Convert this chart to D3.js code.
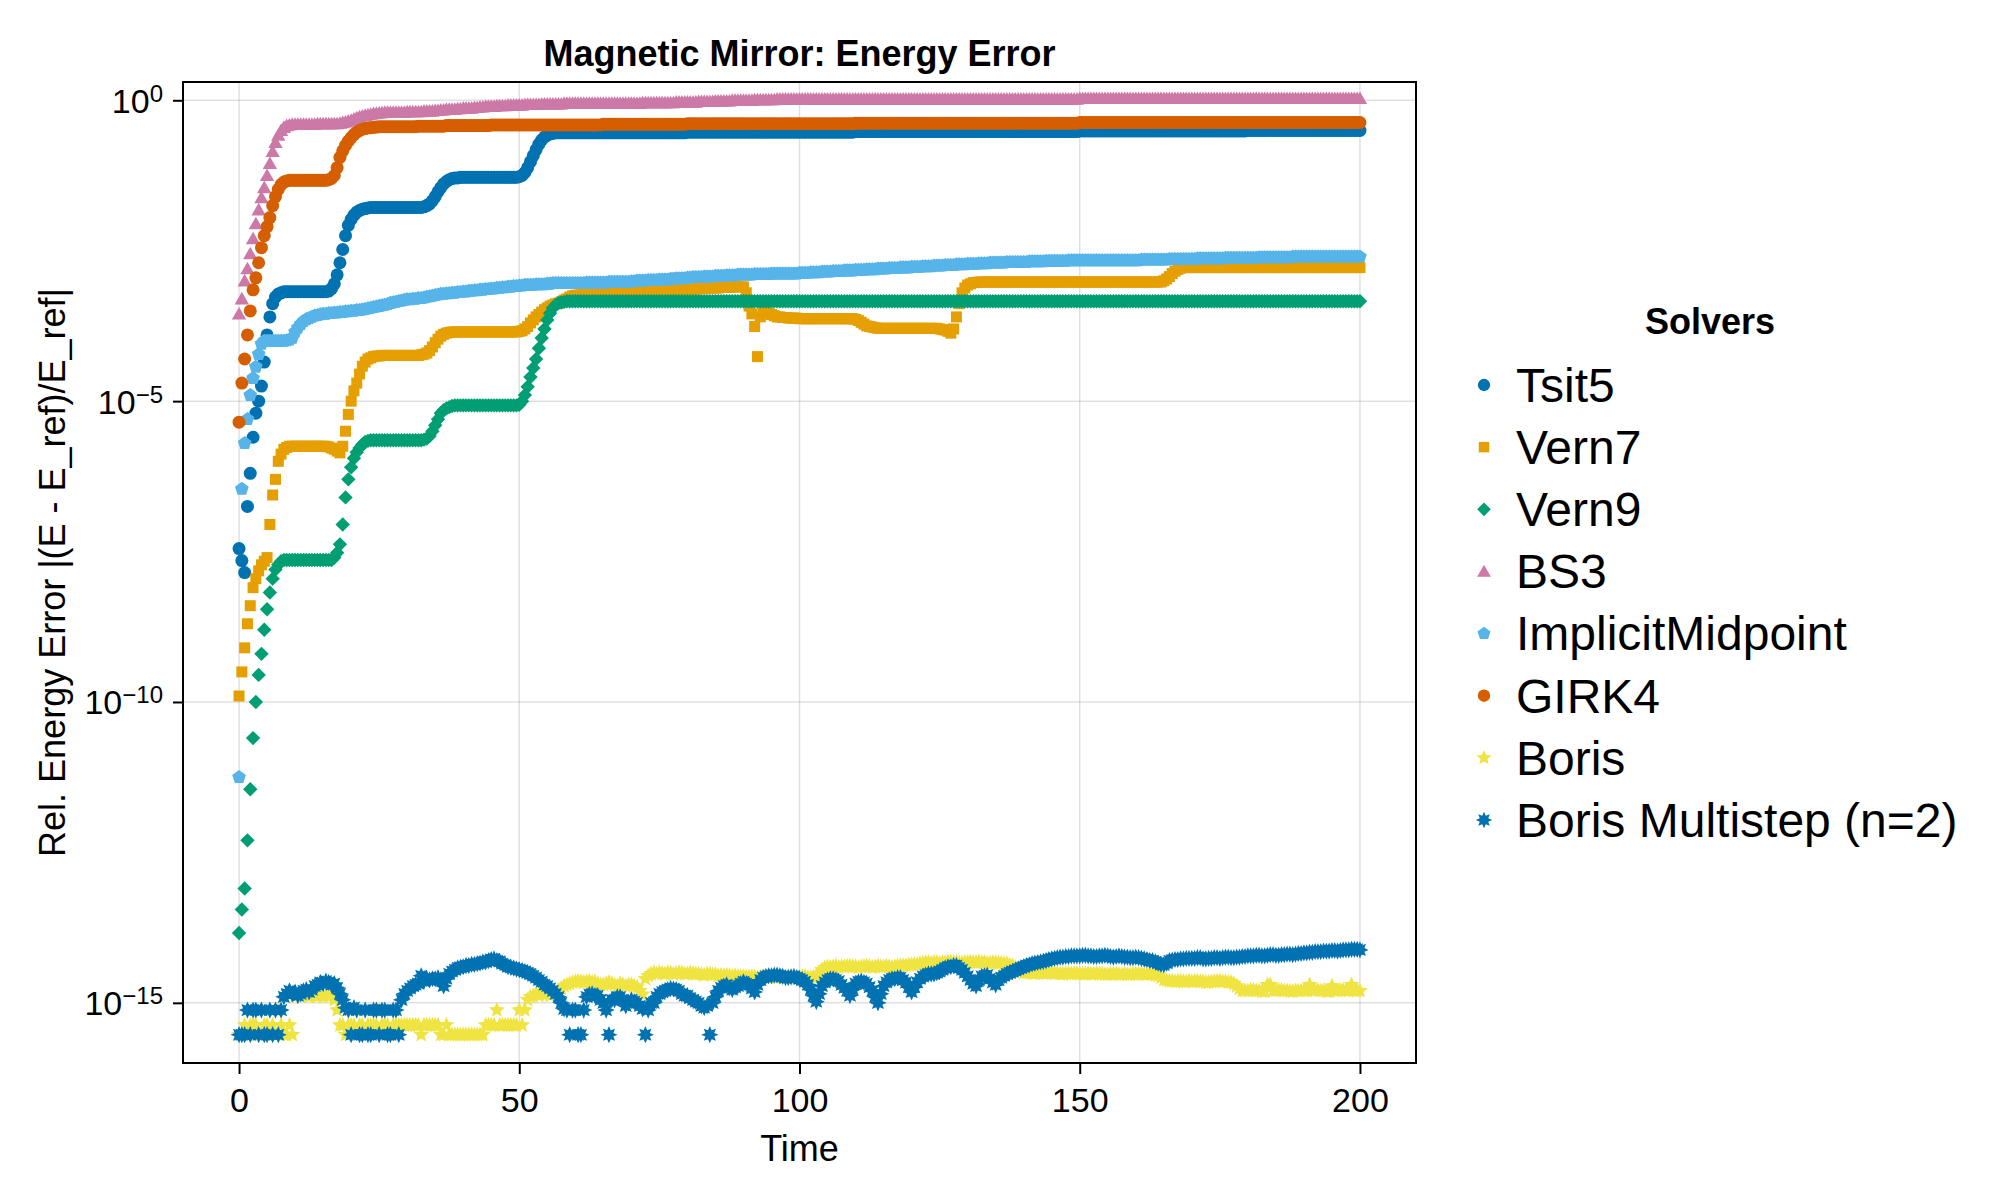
<!DOCTYPE html>
<html>
<head>
<meta charset="utf-8">
<script src="https://cdn.jsdelivr.net/npm/d3@7"></script>
<style>
  body { margin: 0; background: #fff; }
  svg { display: block; font-family: "Liberation Sans", Arial, sans-serif; }
</style>
</head>
<body>
<svg id="chart" width="2000" height="1200"></svg>
<script>
/*
Data: save times (every 0.5) and log10 of the relative energy error per solver
one row = 10 time units
*/
const times = [
  0, 0.5, 1, 1.5, 2, 2.5, 3, 3.5, 4, 4.5, 5, 5.5, 6, 6.5, 7, 7.5, 8, 8.5, 9, 9.5,
  10, 10.5, 11, 11.5, 12, 12.5, 13, 13.5, 14, 14.5, 15, 15.5, 16, 16.5, 17, 17.5, 18, 18.5, 19, 19.5,
  20, 20.5, 21, 21.5, 22, 22.5, 23, 23.5, 24, 24.5, 25, 25.5, 26, 26.5, 27, 27.5, 28, 28.5, 29, 29.5,
  30, 30.5, 31, 31.5, 32, 32.5, 33, 33.5, 34, 34.5, 35, 35.5, 36, 36.5, 37, 37.5, 38, 38.5, 39, 39.5,
  40, 40.5, 41, 41.5, 42, 42.5, 43, 43.5, 44, 44.5, 45, 45.5, 46, 46.5, 47, 47.5, 48, 48.5, 49, 49.5,
  50, 50.5, 51, 51.5, 52, 52.5, 53, 53.5, 54, 54.5, 55, 55.5, 56, 56.5, 57, 57.5, 58, 58.5, 59, 59.5,
  60, 60.5, 61, 61.5, 62, 62.5, 63, 63.5, 64, 64.5, 65, 65.5, 66, 66.5, 67, 67.5, 68, 68.5, 69, 69.5,
  70, 70.5, 71, 71.5, 72, 72.5, 73, 73.5, 74, 74.5, 75, 75.5, 76, 76.5, 77, 77.5, 78, 78.5, 79, 79.5,
  80, 80.5, 81, 81.5, 82, 82.5, 83, 83.5, 84, 84.5, 85, 85.5, 86, 86.5, 87, 87.5, 88, 88.5, 89, 89.5,
  90, 90.5, 91, 91.5, 92, 92.5, 93, 93.5, 94, 94.5, 95, 95.5, 96, 96.5, 97, 97.5, 98, 98.5, 99, 99.5,
  100, 100.5, 101, 101.5, 102, 102.5, 103, 103.5, 104, 104.5, 105, 105.5, 106, 106.5, 107, 107.5, 108, 108.5, 109, 109.5,
  110, 110.5, 111, 111.5, 112, 112.5, 113, 113.5, 114, 114.5, 115, 115.5, 116, 116.5, 117, 117.5, 118, 118.5, 119, 119.5,
  120, 120.5, 121, 121.5, 122, 122.5, 123, 123.5, 124, 124.5, 125, 125.5, 126, 126.5, 127, 127.5, 128, 128.5, 129, 129.5,
  130, 130.5, 131, 131.5, 132, 132.5, 133, 133.5, 134, 134.5, 135, 135.5, 136, 136.5, 137, 137.5, 138, 138.5, 139, 139.5,
  140, 140.5, 141, 141.5, 142, 142.5, 143, 143.5, 144, 144.5, 145, 145.5, 146, 146.5, 147, 147.5, 148, 148.5, 149, 149.5,
  150, 150.5, 151, 151.5, 152, 152.5, 153, 153.5, 154, 154.5, 155, 155.5, 156, 156.5, 157, 157.5, 158, 158.5, 159, 159.5,
  160, 160.5, 161, 161.5, 162, 162.5, 163, 163.5, 164, 164.5, 165, 165.5, 166, 166.5, 167, 167.5, 168, 168.5, 169, 169.5,
  170, 170.5, 171, 171.5, 172, 172.5, 173, 173.5, 174, 174.5, 175, 175.5, 176, 176.5, 177, 177.5, 178, 178.5, 179, 179.5,
  180, 180.5, 181, 181.5, 182, 182.5, 183, 183.5, 184, 184.5, 185, 185.5, 186, 186.5, 187, 187.5, 188, 188.5, 189, 189.5,
  190, 190.5, 191, 191.5, 192, 192.5, 193, 193.5, 194, 194.5, 195, 195.5, 196, 196.5, 197, 197.5, 198, 198.5, 199, 199.5,
  200
];

const tsit5 = [
  -7.45, -7.65, -7.85, -6.75, -6.2, -5.6, -5.2, -5.0, -4.75, -4.35, -3.9, -3.6, -3.38, -3.27, -3.22, -3.2, -3.18, -3.18, -3.18, -3.18,
  -3.18, -3.18, -3.18, -3.18, -3.18, -3.18, -3.18, -3.18, -3.18, -3.18, -3.18, -3.18, -3.17, -3.13, -3.05, -2.9, -2.7, -2.48, -2.25, -2.08,
  -1.98, -1.91, -1.86, -1.83, -1.81, -1.8, -1.79, -1.78, -1.78, -1.78, -1.78, -1.78, -1.78, -1.78, -1.78, -1.78, -1.78, -1.78, -1.78, -1.78,
  -1.78, -1.78, -1.78, -1.78, -1.78, -1.78, -1.77, -1.75, -1.72, -1.67, -1.6, -1.52, -1.45, -1.39, -1.35, -1.32, -1.3, -1.29, -1.29, -1.28,
  -1.28, -1.28, -1.28, -1.28, -1.28, -1.28, -1.28, -1.28, -1.28, -1.28, -1.28, -1.28, -1.28, -1.28, -1.28, -1.28, -1.28, -1.28, -1.28, -1.28,
  -1.27, -1.25, -1.2, -1.12, -1.02, -0.92, -0.82, -0.73, -0.66, -0.61, -0.58, -0.56, -0.55, -0.54, -0.54, -0.54, -0.54, -0.54, -0.54, -0.54,
  -0.54, -0.54, -0.54, -0.54, -0.54, -0.54, -0.54, -0.54, -0.54, -0.54, -0.54, -0.54, -0.54, -0.54, -0.54, -0.54, -0.54, -0.54, -0.54, -0.54,
  -0.54, -0.54, -0.54, -0.54, -0.54, -0.54, -0.54, -0.54, -0.54, -0.54, -0.54, -0.54, -0.54, -0.54, -0.54, -0.54, -0.54, -0.54, -0.54, -0.54,
  -0.53, -0.53, -0.53, -0.53, -0.53, -0.53, -0.53, -0.53, -0.53, -0.53, -0.53, -0.53, -0.53, -0.53, -0.53, -0.53, -0.53, -0.53, -0.53, -0.53,
  -0.53, -0.53, -0.53, -0.53, -0.53, -0.53, -0.53, -0.53, -0.53, -0.53, -0.53, -0.53, -0.53, -0.53, -0.53, -0.53, -0.53, -0.53, -0.53, -0.53,
  -0.53, -0.53, -0.53, -0.53, -0.53, -0.53, -0.53, -0.53, -0.53, -0.53, -0.53, -0.53, -0.53, -0.53, -0.53, -0.53, -0.53, -0.53, -0.53, -0.53,
  -0.52, -0.52, -0.52, -0.52, -0.52, -0.52, -0.52, -0.52, -0.52, -0.52, -0.52, -0.52, -0.52, -0.52, -0.52, -0.52, -0.52, -0.52, -0.52, -0.52,
  -0.52, -0.52, -0.52, -0.52, -0.52, -0.52, -0.52, -0.52, -0.52, -0.52, -0.52, -0.52, -0.52, -0.52, -0.52, -0.52, -0.52, -0.52, -0.52, -0.52,
  -0.52, -0.52, -0.52, -0.52, -0.52, -0.52, -0.52, -0.52, -0.52, -0.52, -0.52, -0.52, -0.52, -0.52, -0.52, -0.52, -0.52, -0.52, -0.52, -0.52,
  -0.52, -0.52, -0.52, -0.52, -0.52, -0.52, -0.52, -0.52, -0.52, -0.52, -0.52, -0.52, -0.52, -0.52, -0.52, -0.52, -0.52, -0.52, -0.52, -0.52,
  -0.51, -0.51, -0.51, -0.51, -0.51, -0.51, -0.51, -0.51, -0.51, -0.51, -0.51, -0.51, -0.51, -0.51, -0.51, -0.51, -0.51, -0.51, -0.51, -0.51,
  -0.51, -0.51, -0.51, -0.51, -0.51, -0.51, -0.51, -0.51, -0.51, -0.51, -0.51, -0.51, -0.51, -0.51, -0.51, -0.51, -0.51, -0.51, -0.51, -0.51,
  -0.51, -0.51, -0.51, -0.51, -0.51, -0.51, -0.51, -0.51, -0.51, -0.51, -0.51, -0.51, -0.51, -0.51, -0.51, -0.51, -0.51, -0.51, -0.51, -0.51,
  -0.5, -0.5, -0.5, -0.5, -0.5, -0.5, -0.5, -0.5, -0.5, -0.5, -0.5, -0.5, -0.5, -0.5, -0.5, -0.5, -0.5, -0.5, -0.5, -0.5,
  -0.5, -0.5, -0.5, -0.5, -0.5, -0.5, -0.5, -0.5, -0.5, -0.5, -0.5, -0.5, -0.5, -0.5, -0.5, -0.5, -0.5, -0.5, -0.5, -0.5,
  -0.5
];

const vern7 = [
  -9.9, -9.5, -9.1, -8.7, -8.4, -8.1, -7.95, -7.82, -7.72, -7.66, -7.6, -7.05, -6.56, -6.3, -6.0, -5.88, -5.8, -5.77, -5.75, -5.75,
  -5.75, -5.75, -5.75, -5.75, -5.75, -5.75, -5.75, -5.75, -5.75, -5.75, -5.75, -5.75, -5.76, -5.78, -5.8, -5.83, -5.86, -5.75, -5.5, -5.22,
  -5.0, -4.83, -4.7, -4.55, -4.42, -4.35, -4.3, -4.28, -4.26, -4.25, -4.25, -4.24, -4.24, -4.24, -4.24, -4.24, -4.24, -4.24, -4.24, -4.24,
  -4.24, -4.24, -4.24, -4.24, -4.24, -4.23, -4.22, -4.2, -4.16, -4.1, -4.03, -3.97, -3.92, -3.89, -3.87, -3.86, -3.85, -3.85, -3.85, -3.85,
  -3.85, -3.85, -3.85, -3.85, -3.85, -3.85, -3.85, -3.85, -3.85, -3.85, -3.85, -3.85, -3.85, -3.85, -3.85, -3.85, -3.85, -3.85, -3.85, -3.85,
  -3.84, -3.83, -3.8, -3.76, -3.7, -3.65, -3.6, -3.56, -3.52, -3.48, -3.45, -3.42, -3.4, -3.38, -3.37, -3.35, -3.32, -3.3, -3.27, -3.25,
  -3.24, -3.24, -3.23, -3.23, -3.22, -3.22, -3.22, -3.22, -3.21, -3.21, -3.21, -3.21, -3.2, -3.2, -3.2, -3.2, -3.2, -3.2, -3.19, -3.19,
  -3.19, -3.19, -3.18, -3.18, -3.18, -3.18, -3.17, -3.17, -3.17, -3.17, -3.16, -3.16, -3.16, -3.16, -3.15, -3.15, -3.15, -3.15, -3.14, -3.14,
  -3.14, -3.14, -3.14, -3.14, -3.13, -3.13, -3.13, -3.13, -3.12, -3.12, -3.12, -3.12, -3.11, -3.11, -3.11, -3.11, -3.1, -3.1, -3.1, -3.1,
  -3.1, -3.2, -3.42, -3.55, -3.76, -4.26, -3.6, -3.52, -3.52, -3.54, -3.56, -3.58, -3.6, -3.6, -3.61, -3.61, -3.62, -3.62, -3.62, -3.62,
  -3.63, -3.63, -3.63, -3.63, -3.63, -3.63, -3.63, -3.63, -3.63, -3.63, -3.63, -3.63, -3.63, -3.63, -3.63, -3.63, -3.63, -3.63, -3.63, -3.63,
  -3.64, -3.66, -3.69, -3.72, -3.75, -3.76, -3.77, -3.78, -3.79, -3.79, -3.79, -3.79, -3.79, -3.79, -3.79, -3.79, -3.79, -3.79, -3.79, -3.79,
  -3.79, -3.79, -3.79, -3.79, -3.79, -3.79, -3.79, -3.79, -3.79, -3.79, -3.8, -3.81, -3.82, -3.84, -3.87, -3.8, -3.6, -3.38, -3.2, -3.12,
  -3.07, -3.05, -3.03, -3.03, -3.02, -3.02, -3.02, -3.02, -3.02, -3.02, -3.02, -3.02, -3.02, -3.02, -3.02, -3.02, -3.02, -3.02, -3.02, -3.02,
  -3.02, -3.02, -3.02, -3.02, -3.02, -3.02, -3.02, -3.02, -3.02, -3.02, -3.02, -3.02, -3.02, -3.02, -3.02, -3.02, -3.02, -3.02, -3.02, -3.02,
  -3.02, -3.02, -3.02, -3.02, -3.02, -3.02, -3.02, -3.02, -3.02, -3.02, -3.02, -3.02, -3.02, -3.02, -3.02, -3.02, -3.02, -3.02, -3.02, -3.02,
  -3.02, -3.02, -3.02, -3.02, -3.02, -3.02, -3.02, -3.02, -3.02, -3.02, -3.0, -2.97, -2.93, -2.88, -2.84, -2.81, -2.79, -2.78, -2.78, -2.78,
  -2.78, -2.78, -2.78, -2.78, -2.78, -2.78, -2.78, -2.78, -2.78, -2.78, -2.78, -2.78, -2.78, -2.78, -2.78, -2.78, -2.78, -2.78, -2.78, -2.78,
  -2.78, -2.78, -2.78, -2.78, -2.78, -2.78, -2.78, -2.78, -2.78, -2.78, -2.78, -2.78, -2.78, -2.78, -2.78, -2.78, -2.78, -2.78, -2.78, -2.78,
  -2.78, -2.78, -2.78, -2.78, -2.78, -2.78, -2.78, -2.78, -2.78, -2.78, -2.78, -2.78, -2.78, -2.78, -2.78, -2.78, -2.78, -2.78, -2.78, -2.78,
  -2.78
];

const vern9 = [
  -13.84, -13.45, -13.1, -12.3, -11.45, -10.6, -10.0, -9.55, -9.2, -8.8, -8.46, -8.18, -7.95, -7.8, -7.72, -7.66, -7.64, -7.64, -7.64, -7.64,
  -7.64, -7.64, -7.64, -7.64, -7.64, -7.64, -7.64, -7.64, -7.64, -7.64, -7.64, -7.64, -7.64, -7.64, -7.6, -7.52, -7.38, -7.05, -6.6, -6.3,
  -6.1, -5.95, -5.85, -5.78, -5.72, -5.68, -5.66, -5.65, -5.65, -5.65, -5.65, -5.65, -5.65, -5.65, -5.65, -5.65, -5.65, -5.65, -5.65, -5.65,
  -5.65, -5.65, -5.65, -5.65, -5.65, -5.65, -5.64, -5.62, -5.58, -5.5, -5.4, -5.3, -5.2, -5.15, -5.12, -5.1, -5.08, -5.07, -5.07, -5.07,
  -5.07, -5.07, -5.07, -5.07, -5.07, -5.07, -5.07, -5.07, -5.07, -5.07, -5.07, -5.07, -5.07, -5.07, -5.07, -5.07, -5.07, -5.07, -5.07, -5.07,
  -5.06, -5.0, -4.9, -4.76, -4.6, -4.45, -4.3, -4.12, -3.95, -3.8, -3.65, -3.54, -3.45, -3.4, -3.37, -3.36, -3.35, -3.34, -3.34, -3.34,
  -3.34, -3.34, -3.34, -3.34, -3.34, -3.34, -3.34, -3.34, -3.34, -3.34, -3.34, -3.34, -3.34, -3.34, -3.34, -3.34, -3.34, -3.34, -3.34, -3.34,
  -3.34, -3.34, -3.34, -3.34, -3.34, -3.34, -3.34, -3.34, -3.34, -3.34, -3.34, -3.34, -3.34, -3.34, -3.34, -3.34, -3.34, -3.34, -3.34, -3.34,
  -3.34, -3.34, -3.34, -3.34, -3.34, -3.34, -3.34, -3.34, -3.34, -3.34, -3.34, -3.34, -3.34, -3.34, -3.34, -3.34, -3.34, -3.34, -3.34, -3.34,
  -3.34, -3.34, -3.34, -3.34, -3.34, -3.34, -3.34, -3.34, -3.34, -3.34, -3.34, -3.34, -3.34, -3.34, -3.34, -3.34, -3.34, -3.34, -3.34, -3.34,
  -3.34, -3.34, -3.34, -3.34, -3.34, -3.34, -3.34, -3.34, -3.34, -3.34, -3.34, -3.34, -3.34, -3.34, -3.34, -3.34, -3.34, -3.34, -3.34, -3.34,
  -3.34, -3.34, -3.34, -3.34, -3.34, -3.34, -3.34, -3.34, -3.34, -3.34, -3.34, -3.34, -3.34, -3.34, -3.34, -3.34, -3.34, -3.34, -3.34, -3.34,
  -3.34, -3.34, -3.34, -3.34, -3.34, -3.34, -3.34, -3.34, -3.34, -3.34, -3.34, -3.34, -3.34, -3.34, -3.34, -3.34, -3.34, -3.34, -3.34, -3.34,
  -3.34, -3.34, -3.34, -3.34, -3.34, -3.34, -3.34, -3.34, -3.34, -3.34, -3.34, -3.34, -3.34, -3.34, -3.34, -3.34, -3.34, -3.34, -3.34, -3.34,
  -3.34, -3.34, -3.34, -3.34, -3.34, -3.34, -3.34, -3.34, -3.34, -3.34, -3.34, -3.34, -3.34, -3.34, -3.34, -3.34, -3.34, -3.34, -3.34, -3.34,
  -3.34, -3.34, -3.34, -3.34, -3.34, -3.34, -3.34, -3.34, -3.34, -3.34, -3.34, -3.34, -3.34, -3.34, -3.34, -3.34, -3.34, -3.34, -3.34, -3.34,
  -3.34, -3.34, -3.34, -3.34, -3.34, -3.34, -3.34, -3.34, -3.34, -3.34, -3.34, -3.34, -3.34, -3.34, -3.34, -3.34, -3.34, -3.34, -3.34, -3.34,
  -3.34, -3.34, -3.34, -3.34, -3.34, -3.34, -3.34, -3.34, -3.34, -3.34, -3.34, -3.34, -3.34, -3.34, -3.34, -3.34, -3.34, -3.34, -3.34, -3.34,
  -3.34, -3.34, -3.34, -3.34, -3.34, -3.34, -3.34, -3.34, -3.34, -3.34, -3.34, -3.34, -3.34, -3.34, -3.34, -3.34, -3.34, -3.34, -3.34, -3.34,
  -3.34, -3.34, -3.34, -3.34, -3.34, -3.34, -3.34, -3.34, -3.34, -3.34, -3.34, -3.34, -3.34, -3.34, -3.34, -3.34, -3.34, -3.34, -3.34, -3.34,
  -3.34
];

const bs3 = [
  -3.55, -3.3, -3.0, -2.8, -2.55, -2.3, -2.05, -1.82, -1.62, -1.45, -1.25, -1.05, -0.85, -0.7, -0.58, -0.5, -0.45, -0.42, -0.41, -0.4,
  -0.4, -0.4, -0.4, -0.4, -0.4, -0.4, -0.4, -0.4, -0.39, -0.39, -0.39, -0.39, -0.39, -0.39, -0.39, -0.39, -0.38, -0.37, -0.36, -0.345,
  -0.33, -0.31, -0.29, -0.275, -0.26, -0.25, -0.24, -0.23, -0.22, -0.215, -0.21, -0.205, -0.2, -0.2, -0.2, -0.2, -0.2, -0.2, -0.2, -0.2,
  -0.19, -0.19, -0.19, -0.19, -0.19, -0.19, -0.18, -0.18, -0.18, -0.18, -0.17, -0.17, -0.16, -0.16, -0.15, -0.15, -0.15, -0.15, -0.14, -0.14,
  -0.13, -0.13, -0.13, -0.13, -0.12, -0.12, -0.11, -0.11, -0.1, -0.1, -0.1, -0.1, -0.09, -0.09, -0.09, -0.09, -0.08, -0.08, -0.08, -0.08,
  -0.08, -0.08, -0.07, -0.07, -0.07, -0.07, -0.07, -0.07, -0.06, -0.06, -0.06, -0.06, -0.06, -0.06, -0.06, -0.06, -0.05, -0.05, -0.05, -0.05,
  -0.05, -0.05, -0.05, -0.05, -0.05, -0.05, -0.05, -0.05, -0.05, -0.05, -0.05, -0.05, -0.05, -0.05, -0.05, -0.05, -0.05, -0.05, -0.05, -0.05,
  -0.05, -0.05, -0.05, -0.05, -0.04, -0.04, -0.04, -0.04, -0.04, -0.04, -0.04, -0.04, -0.04, -0.04, -0.04, -0.04, -0.03, -0.03, -0.03, -0.03,
  -0.03, -0.03, -0.03, -0.03, -0.02, -0.02, -0.02, -0.02, -0.02, -0.02, -0.01, -0.01, -0.01, -0.01, -0.01, -0.01, 0, 0, 0, 0,
  0, 0, 0, 0, 0.01, 0.01, 0.01, 0.01, 0.01, 0.01, 0.01, 0.01, 0.02, 0.02, 0.02, 0.02, 0.02, 0.02, 0.02, 0.02,
  0.02, 0.02, 0.02, 0.02, 0.02, 0.02, 0.02, 0.02, 0.02, 0.02, 0.02, 0.02, 0.02, 0.02, 0.02, 0.02, 0.02, 0.02, 0.02, 0.02,
  0.02, 0.02, 0.02, 0.02, 0.02, 0.02, 0.02, 0.02, 0.02, 0.02, 0.02, 0.02, 0.02, 0.02, 0.02, 0.02, 0.02, 0.02, 0.02, 0.02,
  0.02, 0.02, 0.02, 0.02, 0.02, 0.02, 0.02, 0.02, 0.02, 0.02, 0.02, 0.02, 0.02, 0.02, 0.02, 0.02, 0.02, 0.02, 0.02, 0.02,
  0.02, 0.02, 0.02, 0.02, 0.02, 0.02, 0.02, 0.02, 0.02, 0.02, 0.02, 0.02, 0.02, 0.02, 0.02, 0.02, 0.02, 0.02, 0.02, 0.02,
  0.02, 0.02, 0.02, 0.02, 0.02, 0.02, 0.02, 0.02, 0.02, 0.02, 0.02, 0.02, 0.02, 0.02, 0.02, 0.02, 0.02, 0.02, 0.02, 0.02,
  0.03, 0.03, 0.03, 0.03, 0.03, 0.03, 0.03, 0.03, 0.03, 0.03, 0.03, 0.03, 0.03, 0.03, 0.03, 0.03, 0.03, 0.03, 0.03, 0.03,
  0.03, 0.03, 0.03, 0.03, 0.03, 0.03, 0.03, 0.03, 0.03, 0.03, 0.03, 0.03, 0.03, 0.03, 0.03, 0.03, 0.03, 0.03, 0.03, 0.03,
  0.03, 0.03, 0.03, 0.03, 0.03, 0.03, 0.03, 0.03, 0.03, 0.03, 0.03, 0.03, 0.03, 0.03, 0.03, 0.03, 0.03, 0.03, 0.03, 0.03,
  0.03, 0.03, 0.03, 0.03, 0.03, 0.03, 0.03, 0.03, 0.03, 0.03, 0.03, 0.03, 0.03, 0.03, 0.03, 0.03, 0.03, 0.03, 0.03, 0.03,
  0.03, 0.03, 0.03, 0.03, 0.03, 0.03, 0.03, 0.03, 0.03, 0.03, 0.03, 0.03, 0.03, 0.03, 0.03, 0.03, 0.03, 0.03, 0.03, 0.03,
  0.03
];

const implicitMidpoint = [
  -11.25, -6.46, -5.7, -5.3, -4.9, -4.62, -4.43, -4.22, -4.05, -4.0, -4.0, -4.0, -4.0, -4.0, -4.0, -4.0, -4.0, -3.99, -3.98, -3.95,
  -3.85, -3.78, -3.72, -3.67, -3.64, -3.62, -3.6, -3.58, -3.57, -3.56, -3.55, -3.55, -3.54, -3.54, -3.53, -3.53, -3.52, -3.52, -3.51, -3.51,
  -3.5, -3.5, -3.49, -3.49, -3.48, -3.47, -3.46, -3.45, -3.44, -3.43, -3.42, -3.41, -3.4, -3.39, -3.37, -3.36, -3.35, -3.34, -3.33, -3.32,
  -3.31, -3.31, -3.3, -3.3, -3.29, -3.29, -3.28, -3.27, -3.26, -3.25, -3.24, -3.23, -3.22, -3.22, -3.21, -3.21, -3.2, -3.2, -3.19, -3.19,
  -3.18, -3.18, -3.17, -3.17, -3.16, -3.16, -3.15, -3.15, -3.14, -3.14, -3.13, -3.13, -3.12, -3.12, -3.11, -3.11, -3.1, -3.1, -3.09, -3.09,
  -3.08, -3.08, -3.07, -3.07, -3.07, -3.07, -3.06, -3.06, -3.06, -3.06, -3.05, -3.05, -3.04, -3.04, -3.04, -3.04, -3.04, -3.04, -3.04, -3.04,
  -3.04, -3.04, -3.04, -3.04, -3.03, -3.03, -3.03, -3.03, -3.03, -3.03, -3.03, -3.03, -3.02, -3.02, -3.02, -3.02, -3.02, -3.02, -3.02, -3.02,
  -3.01, -3.01, -3.0, -3.0, -3.0, -3.0, -2.99, -2.99, -2.99, -2.99, -2.98, -2.98, -2.98, -2.98, -2.97, -2.97, -2.96, -2.96, -2.96, -2.96,
  -2.95, -2.95, -2.94, -2.94, -2.94, -2.94, -2.93, -2.93, -2.93, -2.93, -2.92, -2.92, -2.92, -2.92, -2.91, -2.91, -2.91, -2.91, -2.9, -2.9,
  -2.9, -2.9, -2.9, -2.9, -2.89, -2.89, -2.89, -2.89, -2.89, -2.89, -2.88, -2.88, -2.88, -2.88, -2.88, -2.88, -2.88, -2.88, -2.88, -2.88,
  -2.87, -2.87, -2.87, -2.87, -2.86, -2.86, -2.86, -2.86, -2.85, -2.85, -2.85, -2.85, -2.84, -2.84, -2.84, -2.84, -2.83, -2.83, -2.83, -2.83,
  -2.82, -2.82, -2.82, -2.82, -2.81, -2.81, -2.81, -2.81, -2.8, -2.8, -2.8, -2.8, -2.79, -2.79, -2.79, -2.79, -2.78, -2.78, -2.78, -2.78,
  -2.77, -2.77, -2.77, -2.77, -2.76, -2.76, -2.76, -2.76, -2.75, -2.75, -2.75, -2.75, -2.74, -2.74, -2.74, -2.74, -2.73, -2.73, -2.73, -2.73,
  -2.72, -2.72, -2.72, -2.72, -2.71, -2.71, -2.71, -2.71, -2.7, -2.7, -2.7, -2.7, -2.7, -2.7, -2.69, -2.69, -2.69, -2.69, -2.69, -2.69,
  -2.69, -2.69, -2.68, -2.68, -2.68, -2.68, -2.68, -2.68, -2.67, -2.67, -2.67, -2.67, -2.67, -2.67, -2.67, -2.67, -2.66, -2.66, -2.66, -2.66,
  -2.66, -2.66, -2.66, -2.66, -2.66, -2.66, -2.66, -2.66, -2.66, -2.66, -2.66, -2.66, -2.66, -2.66, -2.66, -2.66, -2.66, -2.66, -2.66, -2.66,
  -2.66, -2.66, -2.65, -2.65, -2.65, -2.65, -2.65, -2.65, -2.65, -2.65, -2.65, -2.65, -2.64, -2.64, -2.64, -2.64, -2.64, -2.64, -2.64, -2.64,
  -2.64, -2.64, -2.63, -2.63, -2.63, -2.63, -2.63, -2.63, -2.63, -2.63, -2.63, -2.63, -2.62, -2.62, -2.62, -2.62, -2.62, -2.62, -2.62, -2.62,
  -2.62, -2.62, -2.62, -2.62, -2.61, -2.61, -2.61, -2.61, -2.61, -2.61, -2.61, -2.61, -2.61, -2.61, -2.61, -2.61, -2.6, -2.6, -2.6, -2.6,
  -2.6, -2.6, -2.6, -2.6, -2.6, -2.6, -2.6, -2.6, -2.6, -2.6, -2.6, -2.6, -2.6, -2.6, -2.6, -2.6, -2.6, -2.6, -2.6, -2.6,
  -2.6
];

const girk4 = [
  -5.35, -4.7, -4.3, -3.9, -3.5, -3.15, -2.95, -2.7, -2.45, -2.25, -2.1, -1.95, -1.75, -1.6, -1.48, -1.4, -1.36, -1.34, -1.33, -1.33,
  -1.33, -1.33, -1.33, -1.33, -1.33, -1.33, -1.33, -1.33, -1.33, -1.33, -1.33, -1.33, -1.32, -1.3, -1.25, -1.12, -0.95, -0.84, -0.75, -0.68,
  -0.62, -0.57, -0.53, -0.5, -0.48, -0.47, -0.46, -0.455, -0.45, -0.445, -0.44, -0.44, -0.44, -0.44, -0.44, -0.44, -0.44, -0.44, -0.44, -0.44,
  -0.44, -0.44, -0.44, -0.44, -0.43, -0.43, -0.43, -0.43, -0.43, -0.43, -0.43, -0.43, -0.43, -0.43, -0.42, -0.42, -0.42, -0.42, -0.42, -0.42,
  -0.42, -0.42, -0.42, -0.42, -0.42, -0.42, -0.42, -0.42, -0.42, -0.42, -0.41, -0.41, -0.41, -0.41, -0.41, -0.41, -0.41, -0.41, -0.41, -0.41,
  -0.41, -0.41, -0.41, -0.41, -0.41, -0.41, -0.41, -0.41, -0.41, -0.41, -0.41, -0.41, -0.41, -0.41, -0.41, -0.41, -0.41, -0.41, -0.41, -0.41,
  -0.41, -0.41, -0.41, -0.41, -0.41, -0.41, -0.41, -0.41, -0.41, -0.41, -0.4, -0.4, -0.4, -0.4, -0.4, -0.4, -0.4, -0.4, -0.4, -0.4,
  -0.4, -0.4, -0.4, -0.4, -0.4, -0.4, -0.4, -0.4, -0.4, -0.4, -0.4, -0.4, -0.4, -0.4, -0.4, -0.4, -0.4, -0.4, -0.4, -0.4,
  -0.39, -0.39, -0.39, -0.39, -0.39, -0.39, -0.39, -0.39, -0.39, -0.39, -0.39, -0.39, -0.39, -0.39, -0.39, -0.39, -0.39, -0.39, -0.39, -0.39,
  -0.39, -0.39, -0.39, -0.39, -0.39, -0.39, -0.39, -0.39, -0.39, -0.39, -0.39, -0.39, -0.39, -0.39, -0.39, -0.39, -0.39, -0.39, -0.39, -0.39,
  -0.39, -0.39, -0.39, -0.39, -0.39, -0.39, -0.39, -0.39, -0.39, -0.39, -0.39, -0.39, -0.39, -0.39, -0.39, -0.39, -0.39, -0.39, -0.39, -0.39,
  -0.38, -0.38, -0.38, -0.38, -0.38, -0.38, -0.38, -0.38, -0.38, -0.38, -0.38, -0.38, -0.38, -0.38, -0.38, -0.38, -0.38, -0.38, -0.38, -0.38,
  -0.38, -0.38, -0.38, -0.38, -0.38, -0.38, -0.38, -0.38, -0.38, -0.38, -0.38, -0.38, -0.38, -0.38, -0.38, -0.38, -0.38, -0.38, -0.38, -0.38,
  -0.38, -0.38, -0.38, -0.38, -0.38, -0.38, -0.38, -0.38, -0.38, -0.38, -0.38, -0.38, -0.38, -0.38, -0.38, -0.38, -0.38, -0.38, -0.38, -0.38,
  -0.38, -0.38, -0.38, -0.38, -0.38, -0.38, -0.38, -0.38, -0.38, -0.38, -0.38, -0.38, -0.38, -0.38, -0.38, -0.38, -0.38, -0.38, -0.38, -0.38,
  -0.37, -0.37, -0.37, -0.37, -0.37, -0.37, -0.37, -0.37, -0.37, -0.37, -0.37, -0.37, -0.37, -0.37, -0.37, -0.37, -0.37, -0.37, -0.37, -0.37,
  -0.37, -0.37, -0.37, -0.37, -0.37, -0.37, -0.37, -0.37, -0.37, -0.37, -0.37, -0.37, -0.37, -0.37, -0.37, -0.37, -0.37, -0.37, -0.37, -0.37,
  -0.37, -0.37, -0.37, -0.37, -0.37, -0.37, -0.37, -0.37, -0.37, -0.37, -0.37, -0.37, -0.37, -0.37, -0.37, -0.37, -0.37, -0.37, -0.37, -0.37,
  -0.37, -0.37, -0.37, -0.37, -0.37, -0.37, -0.37, -0.37, -0.37, -0.37, -0.37, -0.37, -0.37, -0.37, -0.37, -0.37, -0.37, -0.37, -0.37, -0.37,
  -0.37, -0.37, -0.37, -0.37, -0.37, -0.37, -0.37, -0.37, -0.37, -0.37, -0.37, -0.37, -0.37, -0.37, -0.37, -0.37, -0.37, -0.37, -0.37, -0.37,
  -0.37
];

const boris = [
  -15.53, -15.53, -15.37, -15.53, -15.37, -15.37, -15.37, -15.53, -15.12, -15.37, -15.37, -15.53, -15.37, -15.53, -15.12, -15.37, -15.53, -15.53, -15.37, -15.53,
  -14.9, -14.85, -14.9, -14.88, -14.85, -14.9, -14.85, -14.88, -14.9, -14.85, -14.9, -14.88, -14.9, -14.85, -14.95, -15.12, -15.37, -15.37, -15.53, -15.37,
  -15.37, -15.37, -15.53, -15.37, -15.37, -15.12, -15.37, -15.37, -15.37, -15.37, -15.12, -15.37, -15.37, -15.37, -15.53, -15.37, -15.37, -15.37, -15.37, -15.37,
  -15.37, -15.37, -15.37, -15.37, -15.37, -15.53, -15.37, -15.37, -15.37, -15.37, -15.37, -15.37, -15.53, -15.53, -15.37, -15.53, -15.53, -15.53, -15.53, -15.53,
  -15.53, -15.53, -15.53, -15.53, -15.53, -15.53, -15.53, -15.53, -15.37, -15.37, -15.37, -15.37, -15.12, -15.37, -15.37, -15.37, -15.37, -15.37, -15.37, -15.37,
  -15.12, -15.37, -15.12, -14.95, -14.9, -14.88, -14.85, -14.88, -14.85, -14.84, -14.85, -14.88, -14.82, -14.84, -14.8, -14.76, -14.72, -14.7, -14.68, -14.66,
  -14.65, -14.64, -14.65, -14.66, -14.65, -14.64, -14.66, -14.65, -14.68, -14.7, -14.7, -14.68, -14.66, -14.68, -14.7, -14.72, -14.68, -14.7, -14.72, -14.7,
  -14.7, -14.72, -14.74, -14.8, -14.86, -14.6, -14.55, -14.52, -14.5, -14.52, -14.5, -14.51, -14.52, -14.5, -14.5, -14.52, -14.51, -14.5, -14.5, -14.52,
  -14.52, -14.5, -14.51, -14.52, -14.52, -14.53, -14.54, -14.52, -14.52, -14.53, -14.53, -14.55, -14.54, -14.55, -14.54, -14.55, -14.56, -14.55, -14.56, -14.56,
  -14.56, -14.57, -14.57, -14.56, -14.57, -14.58, -14.57, -14.56, -14.57, -14.58, -14.57, -14.57, -14.58, -14.56, -14.57, -14.58, -14.56, -14.57, -14.58, -14.57,
  -14.57, -14.56, -14.56, -14.58, -14.58, -14.57, -14.55, -14.52, -14.45, -14.42, -14.4, -14.41, -14.4, -14.39, -14.41, -14.4, -14.4, -14.39, -14.39, -14.4,
  -14.4, -14.41, -14.4, -14.39, -14.39, -14.4, -14.41, -14.4, -14.39, -14.4, -14.4, -14.39, -14.4, -14.41, -14.4, -14.39, -14.38, -14.38, -14.38, -14.37,
  -14.37, -14.36, -14.36, -14.35, -14.34, -14.33, -14.33, -14.34, -14.33, -14.33, -14.34, -14.33, -14.33, -14.32, -14.32, -14.33, -14.33, -14.34, -14.34, -14.33,
  -14.33, -14.32, -14.33, -14.33, -14.32, -14.33, -14.33, -14.34, -14.34, -14.33, -14.33, -14.34, -14.34, -14.35, -14.35, -14.37, -14.38, -14.41, -14.45, -14.48,
  -14.5, -14.5, -14.5, -14.51, -14.51, -14.5, -14.5, -14.51, -14.51, -14.5, -14.5, -14.51, -14.51, -14.52, -14.52, -14.51, -14.51, -14.52, -14.51, -14.51,
  -14.52, -14.52, -14.52, -14.51, -14.52, -14.52, -14.51, -14.52, -14.52, -14.53, -14.53, -14.52, -14.52, -14.52, -14.53, -14.53, -14.52, -14.53, -14.53, -14.52,
  -14.52, -14.52, -14.52, -14.53, -14.53, -14.52, -14.52, -14.54, -14.55, -14.58, -14.62, -14.63, -14.64, -14.64, -14.65, -14.64, -14.64, -14.65, -14.65, -14.64,
  -14.65, -14.64, -14.64, -14.65, -14.65, -14.66, -14.66, -14.65, -14.65, -14.64, -14.64, -14.65, -14.65, -14.66, -14.66, -14.68, -14.72, -14.76, -14.8, -14.8,
  -14.8, -14.79, -14.79, -14.8, -14.8, -14.81, -14.81, -14.7, -14.7, -14.8, -14.8, -14.79, -14.79, -14.8, -14.8, -14.81, -14.81, -14.8, -14.8, -14.8,
  -14.8, -14.8, -14.7, -14.8, -14.79, -14.79, -14.8, -14.8, -14.81, -14.81, -14.72, -14.8, -14.8, -14.79, -14.79, -14.8, -14.8, -14.7, -14.8, -14.8,
  -14.8
];

const borisMultistep = [
  -15.53, -15.53, -15.53, -15.12, -15.53, -15.12, -15.12, -15.53, -15.12, -15.53, -15.53, -15.12, -15.53, -15.12, -15.53, -15.12, -14.9, -14.85, -14.8, -14.85,
  -14.82, -14.88, -14.85, -14.8, -14.78, -14.82, -14.78, -14.72, -14.7, -14.66, -14.68, -14.64, -14.66, -14.7, -14.68, -14.75, -14.85, -14.95, -15.08, -15.12,
  -15.53, -15.08, -15.12, -15.53, -15.53, -15.12, -15.53, -15.53, -15.12, -15.12, -15.53, -15.12, -15.12, -15.53, -15.53, -15.12, -15.12, -15.53, -14.95, -14.85,
  -14.8, -14.76, -14.72, -14.7, -14.68, -14.55, -14.64, -14.6, -14.62, -14.6, -14.6, -14.58, -14.62, -14.72, -14.6, -14.52, -14.48, -14.45, -14.42, -14.41,
  -14.4, -14.38, -14.38, -14.36, -14.36, -14.35, -14.34, -14.32, -14.32, -14.3, -14.28, -14.27, -14.3, -14.31, -14.35, -14.37, -14.4, -14.41, -14.42, -14.44,
  -14.45, -14.46, -14.48, -14.5, -14.52, -14.55, -14.58, -14.62, -14.65, -14.7, -14.72, -14.76, -14.8, -14.85, -14.9, -15.0, -15.1, -15.12, -15.53, -15.12,
  -15.12, -15.53, -15.53, -15.12, -14.9, -14.86, -14.85, -14.88, -14.88, -14.95, -15.0, -15.12, -15.53, -14.95, -14.95, -14.9, -14.9, -14.95, -15.05, -15.0,
  -14.95, -14.98, -15.0, -15.05, -15.1, -15.53, -15.12, -15.0, -15.0, -14.9, -14.85, -14.82, -14.8, -14.78, -14.76, -14.77, -14.78, -14.8, -14.85, -14.88,
  -14.88, -14.92, -14.95, -14.98, -15.0, -15.05, -15.08, -15.05, -15.53, -15.0, -14.9, -14.8, -14.75, -14.72, -14.7, -14.75, -14.78, -14.74, -14.72, -14.68,
  -14.65, -14.68, -14.7, -14.76, -14.82, -14.7, -14.62, -14.58, -14.56, -14.55, -14.55, -14.54, -14.54, -14.55, -14.56, -14.58, -14.58, -14.57, -14.56, -14.58,
  -14.6, -14.62, -14.65, -14.7, -14.78, -14.88, -14.98, -14.85, -14.72, -14.66, -14.62, -14.6, -14.6, -14.62, -14.64, -14.7, -14.75, -14.8, -14.88, -14.78,
  -14.68, -14.65, -14.64, -14.66, -14.68, -14.74, -14.8, -14.9, -15.0, -14.85, -14.72, -14.66, -14.62, -14.6, -14.6, -14.58, -14.58, -14.62, -14.66, -14.74,
  -14.82, -14.74, -14.66, -14.6, -14.56, -14.54, -14.52, -14.52, -14.52, -14.5, -14.48, -14.45, -14.42, -14.4, -14.4, -14.38, -14.38, -14.42, -14.45, -14.5,
  -14.56, -14.62, -14.68, -14.72, -14.62, -14.56, -14.55, -14.54, -14.6, -14.66, -14.7, -14.62, -14.58, -14.55, -14.52, -14.5, -14.48, -14.46, -14.44, -14.42,
  -14.4, -14.38, -14.37, -14.35, -14.34, -14.33, -14.32, -14.31, -14.3, -14.28, -14.27, -14.26, -14.25, -14.24, -14.24, -14.23, -14.23, -14.22, -14.22, -14.22,
  -14.22, -14.21, -14.21, -14.22, -14.22, -14.23, -14.23, -14.22, -14.22, -14.21, -14.22, -14.23, -14.24, -14.23, -14.22, -14.23, -14.24, -14.24, -14.25, -14.25,
  -14.24, -14.25, -14.26, -14.27, -14.28, -14.3, -14.3, -14.32, -14.34, -14.36, -14.37, -14.34, -14.3, -14.29, -14.28, -14.28, -14.27, -14.27, -14.26, -14.26,
  -14.26, -14.26, -14.25, -14.25, -14.27, -14.27, -14.26, -14.26, -14.25, -14.25, -14.26, -14.25, -14.24, -14.24, -14.25, -14.25, -14.24, -14.24, -14.23, -14.23,
  -14.22, -14.22, -14.22, -14.21, -14.21, -14.22, -14.22, -14.21, -14.2, -14.2, -14.21, -14.21, -14.2, -14.2, -14.19, -14.19, -14.2, -14.19, -14.18, -14.18,
  -14.17, -14.17, -14.16, -14.16, -14.15, -14.15, -14.15, -14.14, -14.14, -14.14, -14.13, -14.13, -14.14, -14.13, -14.12, -14.12, -14.12, -14.11, -14.11, -14.11,
  -14.12
];

const solverNames = ["Tsit5", "Vern7", "Vern9", "BS3", "ImplicitMidpoint", "GIRK4", "Boris", "Boris Multistep (n=2)"];
const solverValues = [tsit5, vern7, vern9, bs3, implicitMidpoint, girk4, boris, borisMultistep];
const solverColors = ["#0072B2", "#E69F00", "#009E73", "#CC79A7", "#56B4E9", "#D55E00", "#F0E442", "#0072B2"];
const solverMarkers = ["circle", "rect", "diamond", "utriangle", "pentagon", "circle", "star5", "star8"];

const xTicks = [0, 50, 100, 150, 200];
const yTickExps = [0, -5, -10, -15];

/*
Marker shapes
*/
function polyPath(pts) {
    return "M" + pts.map(p => `${p[0].toFixed(2)},${p[1].toFixed(2)}`).join("L") + "Z";
}

function regular(n, r) {
    var pts = [];
    for (var i = 0; i < n; i++) {
        var a = -Math.PI / 2 + i * 2 * Math.PI / n;
        pts.push([r * Math.cos(a), r * Math.sin(a)]);
    }
    return pts;
}

function star(n, ro, ri) {
    var pts = [];
    for (var i = 0; i < 2 * n; i++) {
        var a = -Math.PI / 2 + i * Math.PI / n;
        var r = (i % 2 == 0) ? ro : ri;
        pts.push([r * Math.cos(a), r * Math.sin(a)]);
    }
    return pts;
}

function markerPath(kind, s) {
    if (kind == "circle") {
        var r = 6.5 * s;
        return `M${r},0A${r},${r} 0 1 1 ${-r},0A${r},${r} 0 1 1 ${r},0Z`;
    }
    if (kind == "rect") {
        var h = 5.5 * s;
        return `M${-h},${-h}h${2 * h}v${2 * h}h${-2 * h}Z`;
    }
    if (kind == "diamond") return polyPath([[0, -7.2 * s], [7.2 * s, 0], [0, 7.2 * s], [-7.2 * s, 0]]);
    if (kind == "utriangle") return polyPath([[0, -7 * s], [7.2 * s, 5.6 * s], [-7.2 * s, 5.6 * s]]);
    if (kind == "pentagon") return polyPath(regular(5, 7.2 * s));
    if (kind == "star5") return polyPath(star(5, 8.4 * s, 3.8 * s));
    return polyPath(star(8, 8.6 * s, 4.8 * s));
}

/*
Layout
*/
const plot = { left: 183, right: 1416, top: 82, bottom: 1063 };
const svg = d3.select("#chart");

const x = d3.scaleLinear().domain([-10, 210]).range([plot.left, plot.right]);
const y = d3.scaleLog().domain([1e-16, Math.pow(10, 0.304)]).range([plot.bottom, plot.top]);

// grid
const g_grid = svg.append("g");
g_grid.selectAll("line.vx").data(xTicks).enter().append("line")
    .attr("x1", d => x(d)).attr("x2", d => x(d))
    .attr("y1", plot.top).attr("y2", plot.bottom)
    .attr("stroke", "rgba(0,0,0,0.12)").attr("stroke-width", 1.5);
g_grid.selectAll("line.hy").data(yTickExps).enter().append("line")
    .attr("x1", plot.left).attr("x2", plot.right)
    .attr("y1", d => y(Math.pow(10, d))).attr("y2", d => y(Math.pow(10, d)))
    .attr("stroke", "rgba(0,0,0,0.12)").attr("stroke-width", 1.5);

// scatter markers, drawn in legend order
const g_marks = svg.append("g");
solverNames.forEach((name, k) => {
    var pts = times.map((t, i) => ({ t: t, v: Math.pow(10, solverValues[k][i]) }));
    var d = markerPath(solverMarkers[k], 1);
    g_marks.append("g")
        .selectAll("path").data(pts).enter().append("path")
        .attr("d", d)
        .attr("transform", p => `translate(${x(p.t).toFixed(2)},${y(p.v).toFixed(2)})`)
        .attr("fill", solverColors[k]);
});

// frame
svg.append("rect")
    .attr("x", plot.left).attr("y", plot.top)
    .attr("width", plot.right - plot.left).attr("height", plot.bottom - plot.top)
    .attr("fill", "none").attr("stroke", "#000").attr("stroke-width", 2);

// x axis
const xAxis = svg.append("g")
    .attr("transform", `translate(0,${plot.bottom})`)
    .call(d3.axisBottom(x).tickValues(xTicks).tickSize(11).tickSizeOuter(0).tickFormat(d3.format("d")));
xAxis.select(".domain").remove();
xAxis.selectAll(".tick line").attr("stroke", "#000").attr("stroke-width", 2);
xAxis.selectAll(".tick text")
    .attr("y", 25).attr("dy", "0.71em")
    .attr("font-size", 34).attr("font-family", "Liberation Sans, Arial, sans-serif").attr("fill", "#000");

// y axis
const yAxis = svg.append("g")
    .attr("transform", `translate(${plot.left},0)`)
    .call(d3.axisLeft(y).tickValues(yTickExps.map(e => Math.pow(10, e))).tickSize(10).tickSizeOuter(0).tickFormat(""));
yAxis.select(".domain").remove();
yAxis.selectAll(".tick line").attr("stroke", "#000").attr("stroke-width", 2);
yAxis.selectAll(".tick").each(function (d) {
    var e = Math.round(Math.log10(d));
    var txt = d3.select(this).append("text")
        .attr("x", -20).attr("y", 12)
        .attr("text-anchor", "end")
        .attr("font-size", 34).attr("fill", "#000");
    txt.append("tspan").text("10");
    txt.append("tspan").attr("dy", -11).attr("font-size", 24)
        .text(e < 0 ? "\u2212" + (-e) : String(e));
});

// title and axis labels
svg.append("text")
    .attr("x", (plot.left + plot.right) / 2).attr("y", 66)
    .attr("text-anchor", "middle")
    .attr("font-size", 36).attr("font-weight", "bold")
    .text("Magnetic Mirror: Energy Error");

svg.append("text")
    .attr("x", (plot.left + plot.right) / 2).attr("y", 1161)
    .attr("text-anchor", "middle")
    .attr("font-size", 36)
    .text("Time");

svg.append("text")
    .attr("transform", `translate(65,${(plot.top + plot.bottom) / 2}) rotate(-90)`)
    .attr("text-anchor", "middle")
    .attr("font-size", 36)
    .text("Rel. Energy Error |(E - E_ref)/E_ref|");

/*
Legend
*/
const legend = svg.append("g");
legend.append("text")
    .attr("x", 1710).attr("y", 334)
    .attr("text-anchor", "middle")
    .attr("font-size", 36).attr("font-weight", "bold")
    .text("Solvers");

const entryY = d3.scalePoint().domain(solverNames).range([385, 820]);
solverNames.forEach((name, k) => {
    legend.append("path")
        .attr("d", markerPath(solverMarkers[k], 0.95))
        .attr("transform", `translate(1484,${entryY(name)})`)
        .attr("fill", solverColors[k]);
    legend.append("text")
        .attr("x", 1516).attr("y", entryY(name))
        .attr("dy", "0.35em")
        .attr("font-size", 48)
        .text(name);
});
</script>
</body>
</html>
